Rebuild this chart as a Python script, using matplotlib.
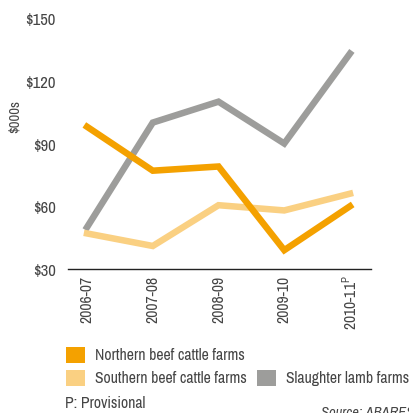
import matplotlib
matplotlib.use("Agg")
import matplotlib.pyplot as plt
from matplotlib.patches import Rectangle

# Farm cash income by farm type ($000s)
years = ["2006-07", "2007-08", "2008-09", "2009-10", "2010-11$^{\\mathrm{P}}$"]
northern_beef = [98, 77, 79, 39, 60]
southern_beef = [47, 41, 60.5, 58, 66]
slaughter_lamb = [50, 100, 110, 90, 133]
y_ticks = [30, 60, 90, 120, 150]
y_tick_labels = ["$30", "$60", "$90", "$120", "$150"]

series_names = ["Northern beef cattle farms", "Southern beef cattle farms",
                "Slaughter lamb farms"]
series_colors = ["#F4A100", "#FAD082", "#9D9D9B"]

plt.rcParams["font.family"] = ["Archivo Narrow", "DejaVu Sans"]
plt.rcParams["mathtext.fontset"] = "custom"
plt.rcParams["mathtext.rm"] = "Archivo Narrow"
text_col = "#454545"

fig = plt.figure(figsize=(4.10, 4.14), dpi=100)
ax = fig.add_axes([68 / 410, 1 - 270 / 414, (371 - 68) / 410, (270 - 19) / 414])

x = range(len(years))
# draw order: lamb at back, then southern, then northern on top
ax.plot(x, slaughter_lamb, color=series_colors[2], lw=4.7, solid_joinstyle="miter")
ax.plot(x, southern_beef, color=series_colors[1], lw=4.7, solid_joinstyle="miter")
ax.plot(x, northern_beef, color=series_colors[0], lw=4.7, solid_joinstyle="miter")

ax.set_xlim(-0.29, 4.32)
ax.set_ylim(30, 150)
ax.set_xticks(list(x))
ax.set_xticklabels(years, rotation=90, fontsize=11.3, color=text_col)
ax.set_yticks(y_ticks)
ax.set_yticklabels(y_tick_labels, fontsize=12, color=text_col)
ax.tick_params(axis="y", length=0, pad=9)
ax.tick_params(axis="x", length=0, pad=4)
for side in ["top", "right", "left"]:
    ax.spines[side].set_visible(False)
ax.spines["bottom"].set_color("#222222")
ax.spines["bottom"].set_linewidth(1.0)

fig.text(15 / 410, 1 - 117 / 414, "$000s", rotation=90, ha="center", va="center",
         fontsize=10.5, color=text_col)

# legend, laid out by hand
legend_pos = [(66, 348), (66, 371), (257, 371)]
for (px, py), name, col in zip(legend_pos, series_names, series_colors):
    fig.patches.append(Rectangle((px / 410, 1 - (py + 16) / 414), 19 / 410, 16 / 414,
                                 transform=fig.transFigure, color=col, lw=0))
    fig.text((px + 29) / 410, 1 - (py + 8) / 414, name, ha="left", va="center",
             fontsize=11.3, color=text_col)

fig.text(65 / 410, 1 - 404 / 414, "P: Provisional", ha="left", va="center",
         fontsize=11.3, color=text_col)
fig.text(321 / 410, 1 - 406 / 414, "Source: ABARES", ha="left", va="top",
         fontsize=10.5, style="italic", color=text_col)

fig.savefig("out.png", dpi=100)
